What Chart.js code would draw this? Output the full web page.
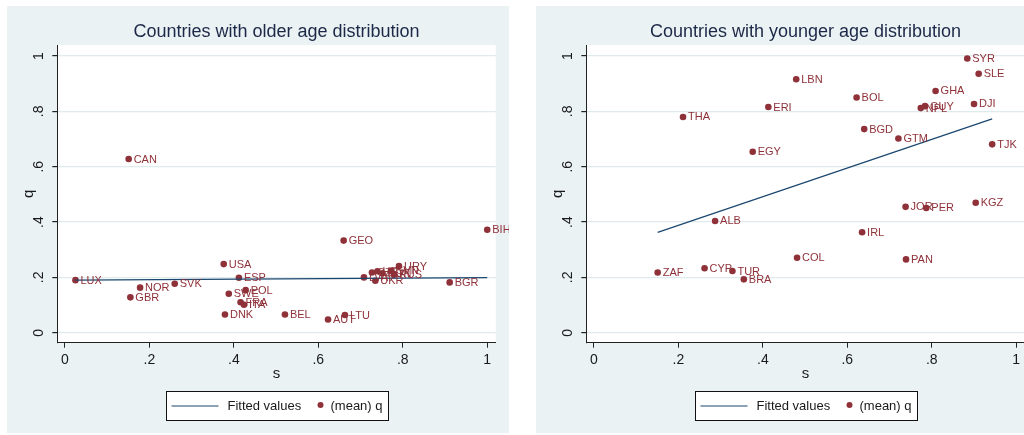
<!DOCTYPE html>
<html>
<head>
<meta charset="utf-8">
<script src="https://cdn.jsdelivr.net/npm/chart.js@4/dist/chart.umd.min.js"></script>
<style>
  html, body { margin: 0; padding: 0; background: #ffffff; width: 1024px; height: 435px; overflow: hidden; }
  .panel { position: absolute; top: 6px; width: 502px; height: 427px; background: #eaf2f3; }
  #panelOld { left: 7px; }
  #panelYoung { left: 536px; }
  canvas { display: block; }
</style>
</head>
<body>
<div class="panel" id="panelOld"><canvas id="chartOld" width="502" height="427"></canvas></div>
<div class="panel" id="panelYoung"><canvas id="chartYoung" width="502" height="427"></canvas></div>
<script>
// ---- Countries with older age distribution ----
const olderCodes = ['LUX','NOR','GBR','SVK','CAN','USA','ESP','SWE','POL','FRA','ITA','DNK','BEL','AUT','LTU','GEO',
                    'LVA','CZE','HRV','HUN','SVN','RUS','UKR','URY','BGR','BIH'];
const olderS = [0.025,0.178,0.155,0.260,0.151,0.376,0.412,0.388,0.428,0.416,0.424,0.379,0.521,0.623,0.663,0.660,
                0.708,0.727,0.740,0.752,0.772,0.779,0.735,0.791,0.911,1.000];
const olderQ = [0.190,0.163,0.128,0.177,0.628,0.248,0.199,0.141,0.154,0.110,0.101,0.066,0.066,0.048,0.064,0.333,
                0.200,0.218,0.222,0.215,0.224,0.210,0.188,0.241,0.182,0.372];
const olderFitS = [0.025, 1.000];
const olderFitQ = [0.190, 0.199];

// ---- Countries with younger age distribution ----
const youngerCodes = ['ZAF','CYP','TUR','BRA','ALB','THA','EGY','ERI','LBN','COL','BOL','IRL','BGD','GTM','JOR',
                      'PAN','NPL','GUY','PER','GHA','SYR','DJI','KGZ','SLE','TJK'];
const youngerS = [0.151,0.262,0.328,0.355,0.287,0.211,0.376,0.413,0.479,0.481,0.622,0.635,0.640,0.721,0.738,
                  0.739,0.774,0.784,0.787,0.809,0.884,0.900,0.904,0.911,0.943];
const youngerQ = [0.218,0.233,0.223,0.193,0.404,0.780,0.654,0.816,0.916,0.271,0.850,0.363,0.736,0.702,0.455,
                  0.265,0.812,0.819,0.451,0.874,0.991,0.827,0.470,0.936,0.681];
const youngerFitS = [0.151, 0.943];
const youngerFitQ = [0.363, 0.773];

// ---- Axes ----
const sTicks = [0, 0.2, 0.4, 0.6, 0.8, 1];
const qTicks = [0, 0.2, 0.4, 0.6, 0.8, 1];
const sRange = [-0.018, 1.02];
const qRange = [-0.036, 1.04];

const FONT = '"Liberation Sans Narrow", "Arial Narrow", "Liberation Sans", Arial, sans-serif';
const MAROON = '#8f3139';
const NAVY = '#1a476f';
const INK = '#1a1a1a';

function fmtTick(v) {
  if (v === 0) return '0';
  if (v === 1) return '1';
  return String(+v.toFixed(1)).replace(/^0/, '');
}

function toXY(xs, ys) { return xs.map((x, i) => ({ x: x, y: ys[i] })); }

// white plot region behind the data
const plotRegion = {
  id: 'plotRegion',
  beforeDraw(chart) {
    const a = chart.chartArea, ctx = chart.ctx;
    ctx.save();
    ctx.fillStyle = '#ffffff';
    ctx.fillRect(a.left, a.top, a.right - a.left, a.bottom - a.top);
    ctx.restore();
  }
};

// country code beside each marker
const markerLabels = {
  id: 'markerLabels',
  afterDatasetsDraw(chart) {
    const ds = chart.data.datasets[1];
    const meta = chart.getDatasetMeta(1);
    const ctx = chart.ctx;
    ctx.save();
    ctx.font = '11px ' + FONT;
    ctx.fillStyle = MAROON;
    ctx.textAlign = 'left';
    ctx.textBaseline = 'middle';
    meta.data.forEach((pt, i) => {
      ctx.fillText(ds.codes[i], pt.x + 5, pt.y + 0.5);
    });
    ctx.restore();
  }
};

// boxed legend under the axis title
const boxedLegend = {
  id: 'boxedLegend',
  afterDraw(chart) {
    const ctx = chart.ctx, a = chart.chartArea;
    const w = 222, h = 29;
    const left = Math.round((a.left + a.right) / 2 - w / 2) + 0.5;
    const top = chart.height - 41.5;
    const cy = top + h / 2;
    const fit = chart.data.datasets[0], pts = chart.data.datasets[1];
    ctx.save();
    ctx.fillStyle = '#ffffff';
    ctx.fillRect(left, top, w, h);
    ctx.strokeStyle = '#111111';
    ctx.lineWidth = 1;
    ctx.strokeRect(left, top, w, h);
    ctx.strokeStyle = fit.borderColor;
    ctx.lineWidth = fit.borderWidth;
    ctx.beginPath();
    ctx.moveTo(left + 5, cy);
    ctx.lineTo(left + 52, cy);
    ctx.stroke();
    ctx.fillStyle = pts.backgroundColor;
    ctx.beginPath();
    ctx.arc(left + 154, cy - 1, 3, 0, Math.PI * 2);
    ctx.fill();
    ctx.font = '13px ' + FONT;
    ctx.fillStyle = INK;
    ctx.textBaseline = 'middle';
    ctx.textAlign = 'left';
    ctx.fillText(fit.label, left + 61, cy);
    ctx.fillText(pts.label, left + 164, cy);
    ctx.restore();
  }
};

function makeChart(canvasId, titleText, codes, s, q, fitS, fitQ) {
  return new Chart(document.getElementById(canvasId), {
    type: 'scatter',
    data: {
      datasets: [
        {
          type: 'line',
          label: 'Fitted values',
          data: toXY(fitS, fitQ),
          borderColor: NAVY,
          borderWidth: 1.2,
          pointRadius: 0,
          fill: false,
          tension: 0
        },
        {
          type: 'scatter',
          label: '(mean) q',
          codes: codes,
          data: toXY(s, q),
          backgroundColor: MAROON,
          borderColor: MAROON,
          borderWidth: 0,
          pointRadius: 3.3,
          pointStyle: 'circle'
        }
      ]
    },
    options: {
      responsive: false,
      animation: false,
      devicePixelRatio: 1,
      layout: { padding: { left: 0, top: 0, right: 13.3, bottom: 0 } },
      plugins: {
        legend: { display: false },
        tooltip: { enabled: false },
        title: {
          display: true,
          text: titleText,
          fullSize: false,
          color: '#1c2848',
          font: { family: FONT, size: 18, weight: 'normal' },
          padding: { top: 15.2, bottom: 2.2 }
        }
      },
      scales: {
        x: {
          type: 'linear',
          min: sRange[0],
          max: sRange[1],
          afterBuildTicks: sc => { sc.ticks = sTicks.map(v => ({ value: v })); },
          afterFit: sc => { sc.height = 90.3; },
          ticks: {
            callback: v => fmtTick(v),
            font: { family: FONT, size: 14 },
            color: INK,
            padding: 4,
            maxRotation: 0,
            minRotation: 0,
            autoSkip: false
          },
          grid: { display: true, drawOnChartArea: false, drawTicks: true, tickLength: 5, color: '#222', tickColor: '#222' },
          border: { display: true, color: '#222', width: 1 },
          title: { display: true, text: 's', color: INK, font: { family: FONT, size: 15 }, padding: { top: 0, bottom: 50 } }
        },
        y: {
          type: 'linear',
          min: qRange[0],
          max: qRange[1],
          afterBuildTicks: sc => { sc.ticks = qTicks.map(v => ({ value: v })); },
          afterFit: sc => { sc.width = 50.3; },
          ticks: {
            callback: v => fmtTick(v),
            font: { family: FONT, size: 14 },
            color: INK,
            padding: 7,
            minRotation: 90,
            maxRotation: 90,
            crossAlign: 'center',
            autoSkip: false
          },
          grid: { display: true, drawOnChartArea: true, drawTicks: true, tickLength: 5, color: '#dfeaed', tickColor: '#222', lineWidth: 1.2 },
          border: { display: true, color: '#222', width: 1 },
          title: { display: true, text: 'q', color: INK, font: { family: FONT, size: 15 }, padding: { top: 13, bottom: 0 } }
        }
      }
    },
    plugins: [plotRegion, markerLabels, boxedLegend]
  });
}

makeChart('chartOld', 'Countries with older age distribution', olderCodes, olderS, olderQ, olderFitS, olderFitQ);
makeChart('chartYoung', 'Countries with younger age distribution', youngerCodes, youngerS, youngerQ, youngerFitS, youngerFitQ);
</script>
</body>
</html>
